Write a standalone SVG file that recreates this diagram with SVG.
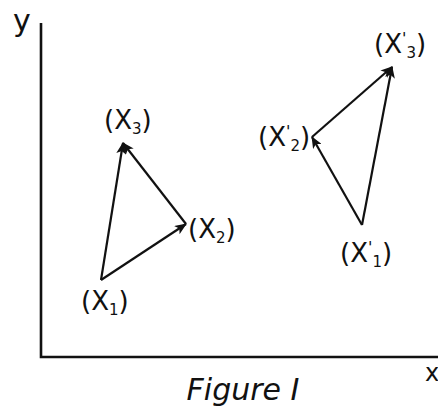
<svg xmlns="http://www.w3.org/2000/svg" width="438" height="408" viewBox="0 0 438 408">
<style>
.lbl{font-family:"DejaVu Sans","Liberation Sans",sans-serif;font-size:26px;fill:#111}
.sub{font-size:15px}
.pr{font-size:16px}
.ax{stroke:#111;stroke-width:2.6;fill:none}
.edge{stroke:#111;stroke-width:2.2;fill:none}
</style>
<defs>
<marker id="ah" viewBox="0 0 12 10" refX="11" refY="5" markerWidth="12" markerHeight="10" markerUnits="userSpaceOnUse" orient="auto">
<path d="M0,0 L12,5 L0,10 L3,5 Z" fill="#111"/>
</marker>
</defs>
<rect width="438" height="408" fill="#fff"/>
<g id="axes">
<path class="ax" d="M41,23 L41,357 L438,357"/>
<text class="lbl" x="13" y="31" style="font-size:30px">y</text>
<text class="lbl" x="425" y="381" style="font-size:24px">x</text>
<text class="lbl" x="243" y="400" text-anchor="middle" style="font-size:30px;font-style:italic">Figure I</text>
</g>
<g id="connectors">
<line class="edge" x1="101" y1="280" x2="186" y2="224" marker-end="url(#ah)"/>
<line class="edge" x1="186" y1="224" x2="123" y2="143" marker-end="url(#ah)"/>
<line class="edge" x1="101" y1="280" x2="123" y2="143" marker-end="url(#ah)"/>
<line class="edge" x1="362" y1="225" x2="312" y2="137" marker-end="url(#ah)"/>
<line class="edge" x1="312" y1="137" x2="392" y2="67" marker-end="url(#ah)"/>
<line class="edge" x1="362" y1="225" x2="392" y2="67" marker-end="url(#ah)"/>
</g>
<g id="x1"><text class="lbl" x="81" y="310">(X<tspan class="sub" dy="5">1</tspan><tspan dy="-5">)</tspan></text></g>
<g id="x2"><text class="lbl" x="188" y="238">(X<tspan class="sub" dy="5">2</tspan><tspan dy="-5">)</tspan></text></g>
<g id="x3"><text class="lbl" x="104" y="129">(X<tspan class="sub" dy="5">3</tspan><tspan dy="-5">)</tspan></text></g>
<g id="x1p"><text class="lbl" x="340" y="262">(X<tspan class="pr" dy="-9">'</tspan><tspan class="sub" dy="14">1</tspan><tspan dy="-5">)</tspan></text></g>
<g id="x2p"><text class="lbl" x="258" y="146">(X<tspan class="pr" dy="-9">'</tspan><tspan class="sub" dy="14">2</tspan><tspan dy="-5">)</tspan></text></g>
<g id="x3p"><text class="lbl" x="374" y="53">(X<tspan class="pr" dy="-9">'</tspan><tspan class="sub" dy="14">3</tspan><tspan dy="-5">)</tspan></text></g>
</svg>
